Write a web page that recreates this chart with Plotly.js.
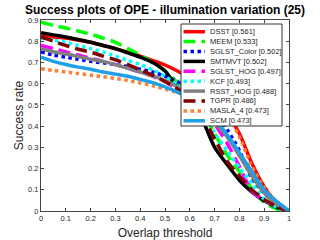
<!DOCTYPE html>
<html><head><meta charset="utf-8">
<script src="https://cdn.plot.ly/plotly-3.0.1.min.js"></script>
<style>html,body{margin:0;padding:0;background:#fff;}#chart{width:320px;height:240px;}</style>
</head><body><div id="chart"></div>
<script>
const thresholds = [0,0.05,0.1,0.15,0.2,0.25,0.3,0.35,0.4,0.45,0.5,0.55,0.6,0.65,0.7,0.75,0.8,0.85,0.9,0.95,1];
const trackers = ['DSST','MEEM','SGLST_Color','SMTMVT','SGLST_HOG','KCF','RSST_HOG','TGPR','MASLA_4','SCM'];
const scores = ['0.561','0.533','0.502','0.502','0.497','0.493','0.488','0.486','0.473','0.473'];

const DSST        = [0.825,0.82,0.815,0.805,0.795,0.78,0.765,0.748,0.73,0.71,0.688,0.66,0.625,0.58,0.525,0.46,0.365,0.225,0.115,0.04,0];
const MEEM        = [0.89,0.875,0.862,0.848,0.833,0.815,0.795,0.765,0.735,0.70,0.66,0.605,0.545,0.475,0.365,0.265,0.185,0.105,0.04,0.01,0];
const SGLST_Color = [0.75,0.735,0.725,0.715,0.705,0.698,0.69,0.68,0.668,0.655,0.635,0.61,0.575,0.53,0.47,0.385,0.285,0.155,0.085,0.03,0];
const SMTMVT      = [0.84,0.83,0.82,0.808,0.795,0.78,0.765,0.745,0.725,0.70,0.66,0.58,0.51,0.43,0.30,0.22,0.145,0.09,0.048,0.018,0];
const SGLST_HOG   = [0.78,0.765,0.75,0.735,0.72,0.705,0.69,0.672,0.655,0.635,0.61,0.575,0.53,0.475,0.41,0.32,0.21,0.095,0.05,0.02,0];
const KCF         = [0.815,0.805,0.795,0.78,0.765,0.75,0.73,0.71,0.69,0.665,0.635,0.595,0.545,0.48,0.37,0.285,0.205,0.13,0.055,0.02,0];
const RSST_HOG    = [0.765,0.75,0.74,0.728,0.715,0.705,0.69,0.672,0.655,0.637,0.615,0.585,0.545,0.49,0.42,0.35,0.26,0.165,0.085,0.03,0];
const TGPR        = [0.82,0.80,0.78,0.762,0.748,0.73,0.712,0.69,0.665,0.64,0.61,0.575,0.53,0.45,0.34,0.235,0.165,0.10,0.055,0.02,0];
const MASLA_4     = [0.67,0.662,0.655,0.648,0.64,0.633,0.625,0.615,0.603,0.59,0.575,0.558,0.54,0.515,0.485,0.45,0.35,0.21,0.11,0.045,0];
const SCM         = [0.725,0.705,0.69,0.678,0.668,0.655,0.645,0.635,0.62,0.605,0.585,0.56,0.53,0.49,0.435,0.36,0.275,0.185,0.10,0.045,0];

const seriesValues = [DSST, MEEM, SGLST_Color, SMTMVT, SGLST_HOG, KCF, RSST_HOG, TGPR, MASLA_4, SCM];
const lineColors = ['#ff0000','#00ff00','#0000ff','#000000','#ff00ff','#00ffff','#808080','#800000','#ff8033','#1ea0e6'];
const lineDashes = ['solid','12px,6px','3.5px,3.5px','solid','12px,6px','3.5px,3.5px','solid','12px,6px','3.5px,3.5px','solid'];

const LW = 3.5;
const traces = seriesValues.map((vals, i) => ({
  x: thresholds, y: vals, type: 'scatter', mode: 'lines',
  line: {color: lineColors[i], width: LW, dash: lineDashes[i], shape: 'spline', smoothing: 0.7},
  showlegend: false, hoverinfo: 'skip'
}));

// manual legend (compact, MATLAB-like)
const L = 41, R = 289, T = 20, B = 211;
const px2x = p => (p - L) / (R - L);
const px2y = p => (B - p) / (B - T);
const shapes = [{type:'rect', xref:'paper', yref:'paper', x0:px2x(181), x1:px2x(282), y0:px2y(126), y1:px2y(24),
  line:{color:'#333333', width:1}, fillcolor:'#ffffff', layer:'above'}];
const annotations = [];
trackers.forEach((name, i) => {
  const yy = px2y(31.7 + i * 9.9);
  shapes.push({type:'line', xref:'paper', yref:'paper', x0:px2x(183.5), x1:px2x(205), y0:yy, y1:yy,
    line:{color:lineColors[i], width:LW, dash:lineDashes[i]}, layer:'above'});
  annotations.push({xref:'paper', yref:'paper', x:px2x(207.5), y:yy, xanchor:'left', yanchor:'middle',
    text: name + ' [' + scores[i] + ']', showarrow:false, font:{size:7.5, color:'#262626'}});
});

const layout = {
  width: 320, height: 240,
  margin: {l: L, r: 320 - R, t: T, b: 240 - B, pad: 0},
  paper_bgcolor: '#ffffff', plot_bgcolor: '#ffffff',
  font: {family: 'Liberation Sans, Arial, sans-serif', color: '#262626'},
  title: {text: 'Success plots of OPE - illumination variation (25)', font: {size: 12, color: '#000000', weight: 'bold'},
    x: 0.5, xref: 'paper', xanchor: 'center', y: 1 - 9.5/240, yref: 'container', yanchor: 'middle'},
  xaxis: {range: [0, 1], tickvals: [0,0.1,0.2,0.3,0.4,0.5,0.6,0.7,0.8,0.9,1], ticktext: ['0','0.1','0.2','0.3','0.4','0.5','0.6','0.7','0.8','0.9','1'],
    ticks: 'inside', ticklen: 3, tickcolor: '#444', showline: true, linecolor: '#444', linewidth: 1, mirror: 'ticks',
    showgrid: false, zeroline: false, tickfont: {size: 7.5, color: '#262626'},
    title: {text: 'Overlap threshold', font: {size: 12, color: '#262626'}, standoff: 7}},
  yaxis: {range: [0, 0.9], tickvals: [0,0.1,0.2,0.3,0.4,0.5,0.6,0.7,0.8,0.9], ticktext: ['0','0.1','0.2','0.3','0.4','0.5','0.6','0.7','0.8','0.9'],
    ticks: 'inside', ticklen: 3, tickcolor: '#444', showline: true, linecolor: '#444', linewidth: 1, mirror: 'ticks',
    showgrid: false, zeroline: false, tickfont: {size: 7.5, color: '#262626'},
    title: {text: 'Success rate', font: {size: 12, color: '#262626'}, standoff: 1}},
  shapes: shapes, annotations: annotations, showlegend: false
};
Plotly.newPlot('chart', traces, layout, {staticPlot: true, displayModeBar: false});
</script></body></html>
